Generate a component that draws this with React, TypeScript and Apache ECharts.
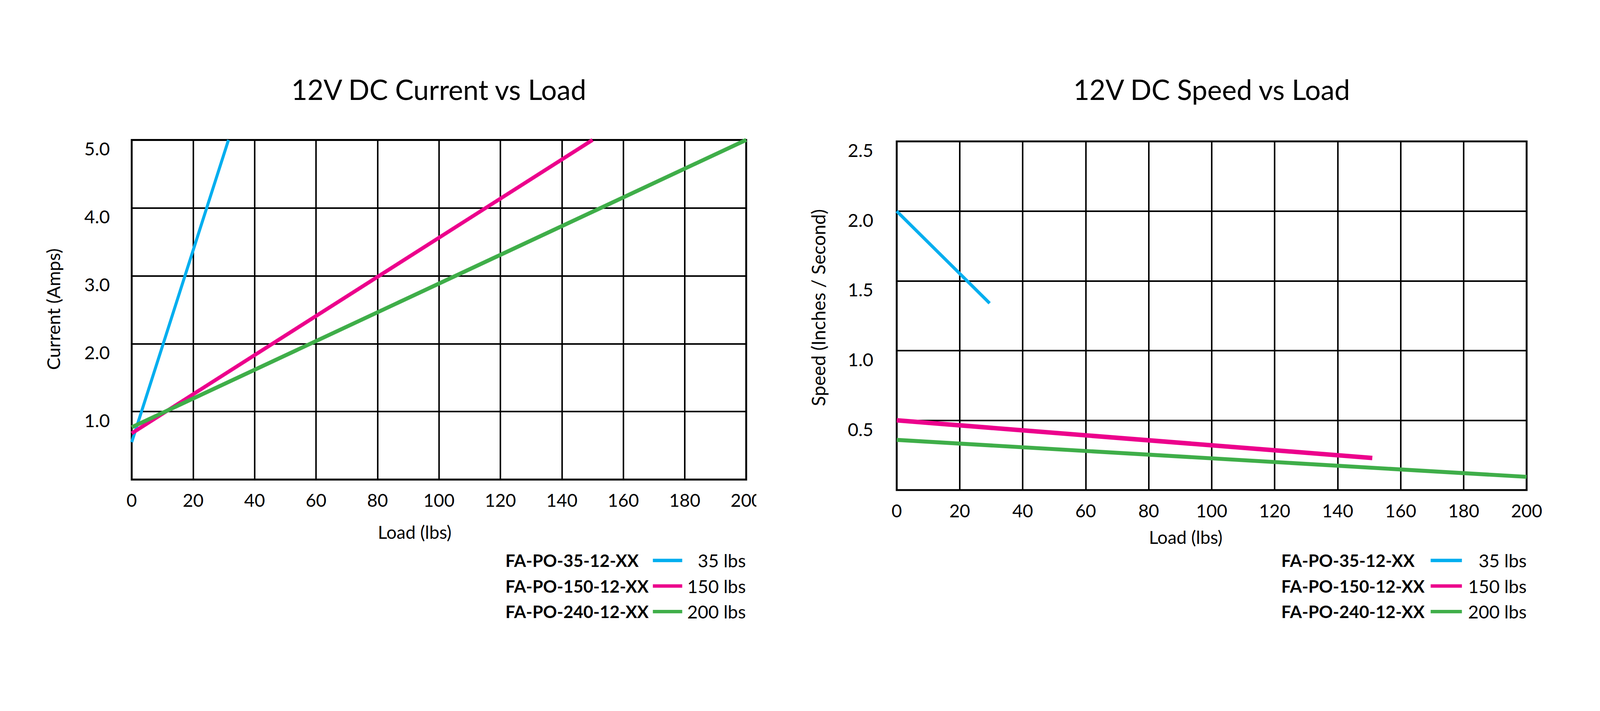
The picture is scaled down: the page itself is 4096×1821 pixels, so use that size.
import React, { useEffect, useRef } from "react";
import * as echarts from "echarts";

// ---------- data ----------
const chartTitles = ["12V DC Current vs Load", "12V DC Speed vs Load"];
const xAxisNames = ["Load (lbs)", "Load (lbs)"];
const yAxisNames = ["Current (Amps)", "Speed (Inches / Second)"];

const models = ["FA-PO-35-12-XX", "FA-PO-150-12-XX", "FA-PO-240-12-XX"];
const capacities = ["35 lbs", "150 lbs", "200 lbs"];
const seriesColors = ["#00AEEF", "#EC008C", "#3FAE49"];

// Current (Amps) vs Load (lbs)
const current35 = [[0, 0.55], [31.5, 5.0]];
const current150 = [[0, 0.68], [150, 5.0]];
const current240 = [[0, 0.77], [200, 5.0]];

// Speed (in/s) vs Load (lbs)
const speed35 = [[0, 2.0], [29.5, 1.34]];
const speed150 = [[0, 0.5], [151, 0.23]];
const speed240 = [[0, 0.36], [200, 0.095]];

const loadAxis = { min: 0, max: 200, interval: 20 };
const currentAxis = { min: 0, max: 5, interval: 1 };
const speedAxis = { min: 0, max: 2.5, interval: 0.5 };

// ---------- layout ----------
const W = 4096;
const H = 1821;
const S = 4096 / 4252;
const f = (v: number) => v * S;
const FONT = "Lato, 'Open Sans', sans-serif";

export default function App() {
  const ref = useRef<HTMLDivElement>(null);

  useEffect(() => {
    if (!ref.current) return;
    const chart = echarts.init(ref.current, undefined, { renderer: "svg", width: W, height: H });

    const grids = [
      { left: f(350), top: f(372), width: f(1633), height: f(903) },
      { left: f(2383), top: f(376), width: f(1674), height: f(927) },
    ];

    const gridStyle = { show: true, borderColor: "#000", borderWidth: f(5), backgroundColor: "transparent" };

    const xAxisBase = (gi: number) => ({
      type: "value",
      gridIndex: gi,
      ...loadAxis,
      axisLine: { show: false },
      axisTick: { show: false },
      splitLine: { show: true, lineStyle: { color: "#000", width: f(4) } },
      axisLabel: { color: "#000", fontFamily: FONT, fontSize: 46, margin: f(30) },
    });

    const yAxisBase = (gi: number, ax: any, dec: number, margin: number) => ({
      type: "value",
      gridIndex: gi,
      ...ax,
      axisLine: { show: false },
      axisTick: { show: false },
      splitLine: { show: true, lineStyle: { color: "#000", width: f(4) } },
      axisLabel: {
        color: "#000",
        fontFamily: FONT,
        fontSize: 47,
        margin,
        verticalAlign: "top",
        lineHeight: 44,
        formatter: (v: number) => (v === 0 ? "" : v.toFixed(dec)),
      },
    });

    const mkSeries = (name: string, data: number[][], idx: number, gi: number, width: number) => ({
      type: "line",
      name,
      xAxisIndex: gi,
      yAxisIndex: gi,
      data,
      showSymbol: false,
      symbol: "none",
      lineStyle: { color: seriesColors[idx], width },
      itemStyle: { color: seriesColors[idx] },
      z: 5,
    });

    const textEl = (text: string, x: number, y: number, size: number, opts: any = {}) => ({
      type: "text",
      x,
      y,
      rotation: opts.rotation || 0,
      z: 50,
      style: {
        text,
        fill: "#000",
        fontFamily: FONT,
        fontSize: size,
        fontWeight: opts.bold ? "bold" : "normal",
        align: opts.align || "center",
        verticalAlign: "middle",
      },
    });

    const legendRows = [f(1490), f(1558), f(1626)];
    const legendLayouts = [
      { textLeft: f(1343), lineX1: f(1735), lineX2: f(1813), capRight: f(1982) },
      { textLeft: f(3405), lineX1: f(3802), lineX2: f(3885), capRight: f(4057) },
    ];

    const legendEls: any[] = [];
    legendLayouts.forEach((L) => {
      models.forEach((m, i) => {
        const y = legendRows[i];
        legendEls.push(textEl(m, L.textLeft, y, 44, { bold: true, align: "left" }));
        legendEls.push({
          type: "line",
          z: 50,
          shape: { x1: L.lineX1, y1: y, x2: L.lineX2, y2: y },
          style: { stroke: seriesColors[i], lineWidth: f(9) },
        });
        legendEls.push(textEl(capacities[i], L.capRight, y, 46.5, { align: "right" }));
      });
    });

    const option: any = {
      animation: false,
      backgroundColor: "#fff",
      grid: grids.map((g) => ({ ...g, ...gridStyle, containLabel: false })),
      xAxis: [xAxisBase(0), xAxisBase(1)],
      yAxis: [yAxisBase(0, currentAxis, 1, f(58)), yAxisBase(1, speedAxis, 1, f(62))],
      series: [
        mkSeries(models[0], current35, 0, 0, f(8)),
        mkSeries(models[1], current150, 1, 0, f(10)),
        mkSeries(models[2], current240, 2, 0, f(10.5)),
        mkSeries(models[0], speed35, 0, 1, f(8.5)),
        mkSeries(models[1], speed150, 1, 1, f(12)),
        mkSeries(models[2], speed240, 2, 1, f(10.5)),
      ],
      graphic: {
        elements: [
          textEl(chartTitles[0], f(1166), f(237.5), 71),
          textEl(chartTitles[1], f(3220), f(237.5), 71),
          textEl(xAxisNames[0], f(1102), f(1414.5), 46),
          textEl(xAxisNames[1], f(3151), f(1428), 46),
          textEl(yAxisNames[0], f(141), f(822), 47, { rotation: Math.PI / 2 }),
          textEl(yAxisNames[1], f(2174), f(818), 48, { rotation: Math.PI / 2 }),
          // the last tick label of the left chart is cut off in the original
          {
            type: "rect",
            z: 60,
            shape: { x: f(2010), y: f(1290), width: f(80), height: f(80) },
            style: { fill: "#fff" },
          },
          ...legendEls,
        ],
      },
    };

    chart.setOption(option);
    return () => chart.dispose();
  }, []);

  return (
    <div
      ref={ref}
      style={{ position: "fixed", left: 0, top: 0, width: W, height: H, background: "#fff" }}
    />
  );
}
